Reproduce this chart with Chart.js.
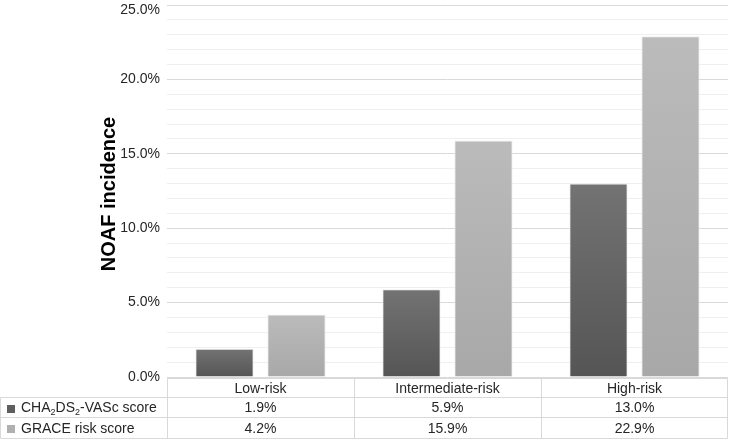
<!DOCTYPE html>
<html>
<head>
<meta charset="utf-8">
<script src="https://cdn.jsdelivr.net/npm/chart.js@4/dist/chart.umd.min.js"></script>
<style>
  html, body { margin: 0; padding: 0; background: #fff; }
  #wrap { width: 730px; height: 442px; position: relative; }
</style>
</head>
<body>
<div id="wrap"><canvas id="chart"></canvas></div>
<script>
const categories = ['Low-risk', 'Intermediate-risk', 'High-risk'];
const seriesLabels = ['CHA₂DS₂-VASc score', 'GRACE risk score'];
const chaValues = [1.9, 5.9, 13.0];
const graceValues = [4.2, 15.9, 22.9];
const yMax = 25;
const yTitle = 'NOAF incidence';

const FONT = '"Liberation Sans", Arial, sans-serif';
const TEXT = '#262626';
const LINE = '#d9d9d9';
const swatch = ['#5e5e5e', '#b0b0b0'];

function pct(v) {
  return v.toFixed(1) + '%';
}

// per-bar vertical gradient, lighter on top
function barFill(top, bottom) {
  return function (ctx) {
    const chart = ctx.chart;
    if (!chart.chartArea || ctx.parsed == null) return bottom;
    const y = chart.scales.y;
    const y0 = y.getPixelForValue(ctx.parsed.y);
    const y1 = y.getPixelForValue(0);
    if (!isFinite(y0) || y1 - y0 < 1) return bottom;
    const g = chart.ctx.createLinearGradient(0, y0, 0, y1);
    g.addColorStop(0, top);
    g.addColorStop(1, bottom);
    return g;
  };
}

// draws text where '₂' becomes a small lowered 2
function drawRich(c, str, x, y, size) {
  let cx = x;
  for (const part of str.split(/(₂)/)) {
    if (!part) continue;
    if (part === '₂') {
      c.font = Math.round(size * 0.62) + 'px ' + FONT;
      c.fillText('2', cx, y + size * 0.3);
      cx += c.measureText('2').width;
    } else {
      c.font = size + 'px ' + FONT;
      c.fillText(part, cx, y);
      cx += c.measureText(part).width;
    }
  }
}

const tablePlugin = {
  id: 'dataTable',
  afterDraw(chart) {
    const c = chart.ctx;
    const area = chart.chartArea;
    const xs = chart.scales.x;
    const left = Math.round(area.left) + 0.5;
    const right = Math.round(area.right) - 0.5;
    const colW = (area.right - area.left) / categories.length;
    const rows = [378.5, 397.5, 417.5, 438.5];

    c.save();
    c.strokeStyle = LINE;
    c.lineWidth = 1;
    c.beginPath();
    c.moveTo(left, rows[0]); c.lineTo(right, rows[0]);
    for (let r = 1; r < rows.length; r++) {
      c.moveTo(0.5, rows[r]); c.lineTo(right, rows[r]);
    }
    for (let i = 0; i <= categories.length; i++) {
      const x = i === categories.length ? right : Math.round(area.left + i * colW) + 0.5;
      c.moveTo(x, rows[0]); c.lineTo(x, rows[3]);
    }
    c.moveTo(0.5, rows[1]); c.lineTo(0.5, rows[3]);
    c.stroke();

    c.fillStyle = TEXT;
    c.textBaseline = 'middle';
    c.textAlign = 'center';
    c.font = '14px ' + FONT;
    const series = [chaValues, graceValues];
    categories.forEach((cat, i) => {
      const cx = xs.getPixelForValue(i);
      c.fillText(cat, cx, (rows[0] + rows[1]) / 2 + 1);
      series.forEach((vals, s) => {
        c.fillText(pct(vals[i]), cx, (rows[s + 1] + rows[s + 2]) / 2 + 1);
      });
    });

    c.textAlign = 'left';
    seriesLabels.forEach((label, s) => {
      const cy = (rows[s + 1] + rows[s + 2]) / 2;
      c.fillStyle = swatch[s];
      c.fillRect(7, Math.round(cy) - 3, 8, 8);
      c.fillStyle = TEXT;
      drawRich(c, label, 21, cy + 1, 14);
    });

    // top tick label, pushed down so it stays inside the canvas
    c.textAlign = 'right';
    c.font = '14px ' + FONT;
    c.fillText(pct(yMax), area.left - 7, Math.max(chart.scales.y.getPixelForValue(yMax), 10));

    // axis title
    c.translate(109, 194);
    c.rotate(-Math.PI / 2);
    c.textAlign = 'center';
    c.font = 'bold 20px ' + FONT;
    c.fillStyle = '#000';
    c.fillText(yTitle, 0, 0);
    c.restore();
  }
};

new Chart(document.getElementById('chart'), {
  type: 'bar',
  data: {
    labels: categories,
    datasets: [
      {
        label: seriesLabels[0],
        data: chaValues,
        backgroundColor: barFill('#737373', '#555555'),
        borderColor: '#eeeeee',
        borderWidth: 1,
        categoryPercentage: 0.77,
        barPercentage: 0.81
      },
      {
        label: seriesLabels[1],
        data: graceValues,
        backgroundColor: barFill('#bbbbbb', '#a8a8a8'),
        borderColor: '#eeeeee',
        borderWidth: 1,
        categoryPercentage: 0.77,
        barPercentage: 0.81
      }
    ]
  },
  options: {
    responsive: true,
    maintainAspectRatio: false,
    animation: false,
    layout: { padding: { top: 5, right: 2, bottom: 65, left: 0 } },
    plugins: {
      legend: { display: false },
      tooltip: { enabled: false }
    },
    scales: {
      x: { display: false },
      y: {
        min: 0,
        max: yMax,
        border: { display: false },
        grid: {
          drawTicks: false,
          color: ctx => (ctx.tick && ctx.tick.value % 5 === 0 ? '#d9d9d9' : '#efefef')
        },
        ticks: {
          stepSize: 1,
          autoSkip: false,
          padding: 7,
          color: TEXT,
          font: { family: FONT, size: 14 },
          callback: v => (v % 5 === 0 && v !== yMax ? pct(v) : '')
        },
        afterFit(scale) {
          scale.width = 167;
          scale.paddingTop = 0;
          scale.paddingBottom = 0;
        }
      }
    }
  },
  plugins: [tablePlugin]
});
</script>
</body>
</html>
